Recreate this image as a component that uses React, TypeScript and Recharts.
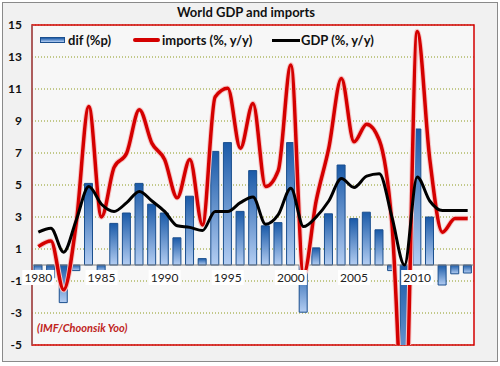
import {
  ComposedChart,
  Bar,
  Line,
  YAxis,
  XAxis,
  CartesianGrid,
  ReferenceLine,
  ReferenceArea,
  ReferenceDot,
} from "recharts";

const years = [
  "1980", "1981", "1982", "1983", "1984", "1985", "1986", "1987", "1988", "1989",
  "1990", "1991", "1992", "1993", "1994", "1995", "1996", "1997", "1998", "1999",
  "2000", "2001", "2002", "2003", "2004", "2005", "2006", "2007", "2008", "2009",
  "2010", "2011", "2012", "2013", "2014",
];

// difference imports - GDP (%p)
const dif = [
  -0.4, -0.8, -2.35, -0.35, 5.1, -0.4, 2.6, 3.25, 5.1, 3.8,
  3.25, 1.7, 4.3, 0.4, 7.1, 7.65, 3.35, 5.9, 2.45, 2.65,
  7.65, -2.95, 1.07, 3.2, 6.25, 2.9, 3.3, 2.2, -0.35, -10.6,
  8.5, 3.0, -1.25, -0.55, -0.5,
];

// world imports growth (%, y/y)
const imports = [
  1.15, 1.5, -1.55, 2.6, 9.9, 3.0, 6.1, 7.0, 9.7, 7.6,
  6.6, 4.2, 6.6, 2.5, 10.5, 11.05, 7.3, 10.1, 4.9, 5.9,
  12.5, -0.6, 4.0, 7.3, 11.65, 7.7, 8.8, 7.8, 2.6, -10.6,
  14.6, 6.6, 2.05, 2.9, 2.9,
];

// world GDP growth (%, y/y)
const gdp = [
  2.05, 2.3, 0.8, 2.8, 4.9, 3.8, 3.35, 3.9, 4.6, 4.0,
  3.35, 2.45, 2.35, 2.15, 3.35, 3.35, 3.9, 4.25, 2.55, 3.15,
  4.8, 2.4, 3.0, 4.0, 5.4, 4.85, 5.55, 5.7, 3.0, 0.0,
  5.5, 4.0, 3.4, 3.4, 3.4,
];

const yTicks = [-5, -3, -1, 1, 3, 5, 7, 9, 11, 13, 15];
const yearLabels = ["1980", "1985", "1990", "1995", "2000", "2005", "2010"];

const data = years.map((year, i) => ({
  year,
  dif: dif[i],
  imports: imports[i],
  gdp: gdp[i],
}));

const FONT = "Lato, 'Open Sans', sans-serif";

function YearLabel(props: any) {
  const { cx, cy, label } = props;
  return (
    <g>
      <rect x={cx - 16} y={cy + 5} width={32} height={15} fill="#ffffff" />
      <text
        x={cx}
        y={cy + 17}
        textAnchor="middle"
        fontSize={12}
        fontFamily={FONT}
        fill="#222"
      >
        {label}
      </text>
    </g>
  );
}

export default function App() {
  return (
    <div
      style={{
        position: "absolute",
        left: 0,
        top: 0,
        width: 500,
        height: 366,
        background: "#ffffff",
        fontFamily: FONT,
      }}
    >
      <div
        style={{
          position: "absolute",
          left: 2,
          top: 2,
          width: 494,
          height: 358,
          border: "1px solid #8a8a8a",
          background: "#f1f1f1",
        }}
      />
      <div style={{ position: "absolute", left: 0, top: 0 }}>
        <ComposedChart
          width={500}
          height={366}
          data={data}
          margin={{ top: 25, right: 26, bottom: 21, left: 0 }}
        >
          <defs>
            <linearGradient id="difGrad" x1="0" y1="0" x2="0" y2="1">
              <stop offset="0%" stopColor="#1a5aa8" />
              <stop offset="100%" stopColor="#b3cdf2" />
            </linearGradient>
          </defs>
          <CartesianGrid
            vertical={false}
            stroke="#8d9a1c"
            strokeDasharray="1 2"
            fill="#f7f7f7"
          />
          <XAxis dataKey="year" hide />
          <YAxis
            domain={[-5, 15]}
            ticks={yTicks}
            allowDataOverflow
            width={32}
            tickLine={false}
            tickMargin={4}
            axisLine={{ stroke: "#7f7f7f" }}
            tick={{ fontSize: 12, fill: "#111", fontFamily: FONT, fontWeight: 700 }}
          />
          <ReferenceArea
            x1="1980"
            x2="2014"
            y1={-5}
            y2={15}
            fill="none"
            stroke="#d40000"
            strokeWidth={1.5}
          />
          <ReferenceLine y={0} stroke="#7f7f7f" />
          <Bar
            dataKey="dif"
            barSize={8}
            fill="url(#difGrad)"
            stroke="#1b4f8e"
            strokeWidth={1}
            isAnimationActive={false}
          />
          {yearLabels.map((y) => (
            <ReferenceDot
              key={y}
              x={y}
              y={0}
              r={0}
              shape={(p: any) => <YearLabel {...p} label={y} />}
            />
          ))}
          <Line
            dataKey="imports"
            type="monotone"
            stroke="#f6c6c6"
            strokeWidth={5.5}
            dot={false}
            legendType="none"
            isAnimationActive={false}
          />
          <Line
            dataKey="imports"
            type="monotone"
            stroke="#d40000"
            strokeWidth={3.5}
            dot={false}
            isAnimationActive={false}
          />
          <Line
            dataKey="gdp"
            type="monotone"
            stroke="#000000"
            strokeWidth={3}
            dot={false}
            isAnimationActive={false}
          />
        </ComposedChart>
      </div>

      {/* title */}
      <div
        style={{
          position: "absolute",
          left: 0,
          width: 492,
          top: 4,
          textAlign: "center",
          fontWeight: 700,
          fontSize: 13,
          color: "#111",
        }}
      >
        World GDP and imports
      </div>

      {/* legend */}
      <div style={{ position: "absolute", left: 40, top: 37, width: 25, height: 6, background: "linear-gradient(#1a5aa8, #b3cdf2)", border: "1px solid #1b4f8e", boxSizing: "border-box" }} />
      <div style={{ position: "absolute", left: 68, top: 32, fontSize: 13, fontWeight: 700, color: "#111" }}>dif (%p)</div>
      <div style={{ position: "absolute", left: 133, top: 38, width: 27, height: 4, background: "#d40000", borderRadius: 2 }} />
      <div style={{ position: "absolute", left: 162, top: 32, fontSize: 13, fontWeight: 700, color: "#111" }}>imports (%, y/y)</div>
      <div style={{ position: "absolute", left: 272, top: 39, width: 28, height: 3, background: "#000" }} />
      <div style={{ position: "absolute", left: 301, top: 32, fontSize: 13, fontWeight: 700, color: "#111" }}>GDP (%, y/y)</div>

      {/* source */}
      <div
        style={{
          position: "absolute",
          left: 37,
          top: 321,
          fontSize: 11,
          fontStyle: "italic",
          fontWeight: 700,
          color: "#c0241c",
        }}
      >
        (IMF/Choonsik Yoo)
      </div>
    </div>
  );
}
